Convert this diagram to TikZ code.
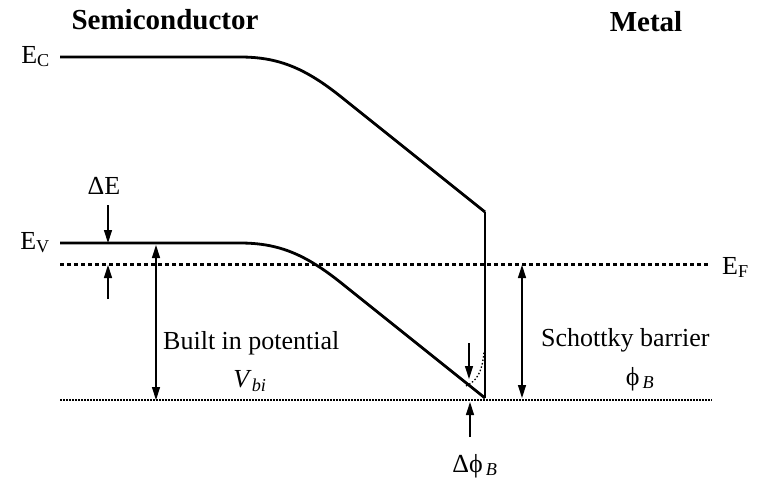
\documentclass[tikz,border=0pt]{standalone}
\usepackage{fontspec}
\setmainfont{Liberation Serif}
\usetikzlibrary{arrows.meta,positioning}

\begin{document}
\begin{tikzpicture}[x=1pt, y=-1pt,
    band/.style={line width=2.8pt, line join=round},
    fermi/.style={line width=3pt, dash pattern=on 4pt off 3pt},
    vac/.style={line width=1.5pt, dash pattern=on 1.6pt off 1.4pt},
    arr/.style={-{Triangle[length=13pt, width=8pt]}, line width=1.3pt},
    darr/.style={{Triangle[length=13pt, width=8pt]}-{Triangle[length=13pt, width=8pt]}, line width=1.3pt},
    lbl/.style={font=\fontsize{26}{30}\selectfont, inner sep=0pt},
    ttl/.style={font=\fontsize{29}{32}\selectfont\bfseries, inner sep=0pt}
  ]
    \useasboundingbox (0,0) rectangle (770,482);

    % Band edges
    \draw[band] (60,57) -- (240,57) .. controls (280,57) and (307,69) .. (345,100) -- (485,212);
    \draw[band] (60,243) -- (240,243) .. controls (280,243) and (307,255) .. (345,286) -- (485,398);
    \draw[band] (485,212) -- (485,398);

    % Fermi level and reference level
    \draw[fermi] (60,264) -- (708,264);
    \draw[vac] (60,400) -- (712,400);
    \draw[line width=1.3pt, dash pattern=on 1.5pt off 2pt] (466,386) .. controls (476,381) and (482,374) .. (484,352);

    % Level labels
    \node[lbl, anchor=base east] (ec) at (50,63)  {E\textsubscript{C}};
    \node[lbl, anchor=base east] (ev) at (50,249) {E\textsubscript{V}};
    \node[lbl, anchor=base west] (ef) at (722,274) {E\textsubscript{F}};
    \node[ttl] (semi) at (165,20) {Semiconductor};
    \node[ttl] (metal) at (646,22) {Metal};

    % Delta E
    \node[lbl] (de) at (104,186) {ΔE};
    \coordinate (de1) at (108,205);
    \coordinate (de2) at (108,243);
    \coordinate (de3) at (108,299);
    \coordinate (de4) at (108,265);
    \draw[arr] (de1) -- (de2);
    \draw[arr] (de3) -- (de4);

    % Built in potential
    \coordinate (vb1) at (156,245);
    \coordinate (vb2) at (156,400);
    \draw[darr] (vb1) -- (vb2);
    \node[lbl, anchor=base west] (bip) at (163,349) {Built in potential};
    \node[lbl] (vbi) at (250,381) {\textit{V}\textsubscript{\textit{bi}}};

    % Schottky barrier
    \coordinate (sb1) at (522,265);
    \coordinate (sb2) at (522,398);
    \draw[darr] (sb1) -- (sb2);
    \node[lbl, anchor=base west] (sbl) at (541,346) {Schottky barrier};
    \node[lbl] (phib) at (640,379) {ϕ\textsubscript{\,\textit{B}}};

    % Barrier lowering
    \coordinate (dp1) at (469,343);
    \coordinate (dp2) at (469,379);
    \coordinate (dp3) at (470,437);
    \coordinate (dp4) at (470,402);
    \draw[arr] (dp1) -- (dp2);
    \draw[arr] (dp3) -- (dp4);
    \node[lbl] (dphi) at (475,466) {Δϕ\textsubscript{\,\textit{B}}};
\end{tikzpicture}
\end{document}
